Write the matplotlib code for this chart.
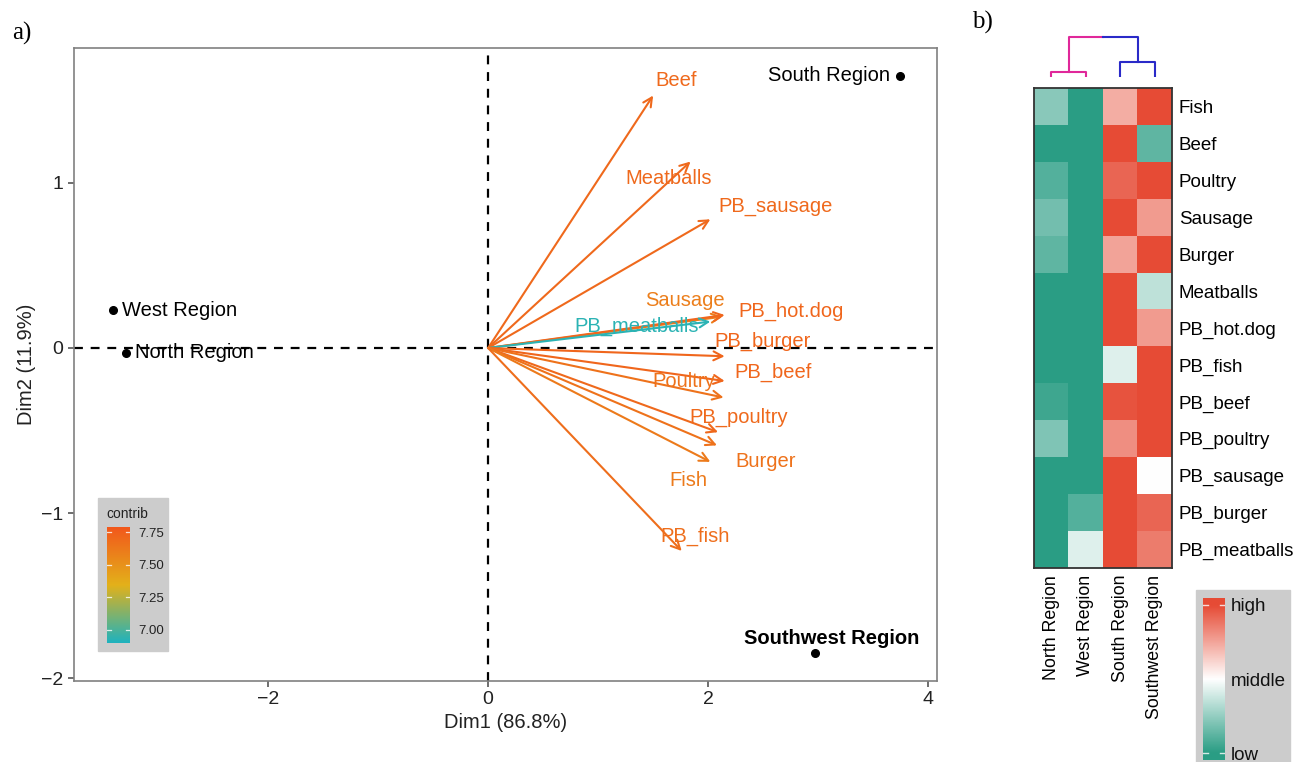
import numpy as np
import matplotlib
matplotlib.use("Agg")
import matplotlib.pyplot as plt
from matplotlib.colors import LinearSegmentedColormap, Normalize
from matplotlib.patches import Rectangle

plt.rcParams['font.family'] = ['Liberation Sans', 'DejaVu Sans']

# ---- PCA biplot data ----
regions = ["South Region", "West Region", "North Region", "Southwest Region"]
region_dim1 = [3.74, -3.41, -3.29, 2.97]
region_dim2 = [1.65, 0.23, -0.03, -1.85]

foods = ["Beef", "Meatballs", "PB_sausage", "Sausage", "PB_hot.dog", "PB_meatballs",
         "PB_burger", "PB_beef", "Poultry", "PB_poultry", "Burger", "Fish", "PB_fish"]
food_dim1 = [1.50, 1.84, 2.02, 2.13, 2.15, 2.02, 2.15, 2.15, 2.14, 2.09, 2.08, 2.02, 1.76]
food_dim2 = [1.53, 1.13, 0.78, 0.19, 0.20, 0.16, -0.05, -0.20, -0.30, -0.51, -0.59, -0.69, -1.23]
contrib = [7.70, 7.70, 7.70, 7.60, 7.72, 6.93, 7.72, 7.72, 7.66, 7.70, 7.66, 7.62, 7.68]

# ---- heatmap data ----
hm_rows = ["Fish", "Beef", "Poultry", "Sausage", "Burger", "Meatballs", "PB_hot.dog",
           "PB_fish", "PB_beef", "PB_poultry", "PB_sausage", "PB_burger", "PB_meatballs"]
hm_cols = ["North Region", "West Region", "South Region", "Southwest Region"]
hm_north = [-0.55, -1.0, -0.8, -0.65, -0.75, -1.0, -1.0, -1.0, -0.9, -0.6, -1.0, -1.0, -1.0]
hm_west = [-1.0, -1.0, -1.0, -1.0, -1.0, -1.0, -1.0, -1.0, -1.0, -1.0, -1.0, -0.8, -0.15]
hm_south = [0.45, 1.0, 0.85, 1.0, 0.5, 1.0, 1.0, -0.15, 0.95, 0.62, 1.0, 1.0, 1.0]
hm_southwest = [1.0, -0.75, 1.0, 0.55, 1.0, -0.3, 0.55, 1.0, 1.0, 1.0, 0.0, 0.85, 0.72]
# column dendrogram merge heights: (North,West), (South,Southwest), root
dend_heights = [0.12, 0.37, 1.0]

# label offsets (layout only, data units)
food_lab_off = {"Beef": (0.21, 0.09), "Meatballs": (-0.20, -0.10), "PB_sausage": (0.59, 0.08),
                "Sausage": (-0.34, 0.10), "PB_hot.dog": (0.60, 0.02), "PB_meatballs": (-0.67, -0.03),
                "PB_burger": (0.34, 0.09), "PB_beef": (0.44, 0.055), "Poultry": (-0.36, 0.095),
                "PB_poultry": (0.19, 0.09), "Burger": (0.44, -0.10), "Fish": (-0.20, -0.11),
                "PB_fish": (0.12, 0.09)}

W, H = 1303, 762


def fbox(x0, y0, x1, y1):
    # pixel box -> figure fraction [left, bottom, width, height]
    return [x0 / W, 1 - y1 / H, (x1 - x0) / W, (y1 - y0) / H]


fig = plt.figure(figsize=(W / 100, H / 100), dpi=100)

# ================= a) biplot =================
ax = fig.add_axes(fbox(74, 48, 937, 681))
ax.set_xlim(-3.764, 4.08)
ax.set_ylim(-2.018, 1.818)
ax.axhline(0, color='black', ls=(0, (4, 3.5)), lw=1.6, zorder=1)
ax.axvline(0, color='black', ls=(0, (4, 3.5)), lw=1.6, zorder=1)

ctr_cmap = LinearSegmentedColormap.from_list("ctr", ["#1FB3BE", "#E3B11A", "#F2581C"])
ctr_norm = Normalize(6.90, 7.79)

for name, x, y, c in zip(foods, food_dim1, food_dim2, contrib):
    col = ctr_cmap(ctr_norm(c))
    ax.annotate("", xy=(x, y), xytext=(0, 0),
                arrowprops=dict(arrowstyle="->", color=col, lw=1.5,
                                mutation_scale=16, shrinkA=0, shrinkB=0), zorder=3)
    dx, dy = food_lab_off[name]
    ax.text(x + dx, y + dy, name, color=col, fontsize=14.5, ha='center', va='center', zorder=4)

for name, x, y in zip(regions, region_dim1, region_dim2):
    ax.plot(x, y, 'o', color='black', ms=5.5, zorder=5)
    if name == "South Region":
        ax.text(x - 0.09, y, name, fontsize=14.5, ha='right', va='center')
    elif name == "Southwest Region":
        ax.text(x + 0.15, y + 0.09, name, fontsize=14.5, ha='center', va='center', fontweight='bold')
    else:
        ax.text(x + 0.08, y, name, fontsize=14.5, ha='left', va='center')

ax.set_xticks([-2, 0, 2, 4])
ax.set_yticks([-2, -1, 0, 1])
ax.set_xticklabels(["\u22122", "0", "2", "4"])
ax.set_yticklabels(["\u22122", "\u22121", "0", "1"])
ax.tick_params(labelsize=14, color='#555555', length=4, width=1.2, labelcolor='#222222')
for s in ax.spines.values():
    s.set_color('#808080')
    s.set_linewidth(1.2)
ax.set_xlabel("Dim1 (86.8%)", fontsize=14.5, color='#222222', labelpad=3)
ax.set_ylabel("Dim2 (11.9%)", fontsize=14.5, color='#222222', labelpad=4)

# contrib legend (box drawn inside the biplot axes, above its background)
ax.add_patch(Rectangle((98 / W, 1 - 651 / H), 70 / W, 153 / H, transform=fig.transFigure,
                       color='#CCCCCC', zorder=6, clip_on=False))
fig.text(106 / W, 1 - 514 / H, "contrib", fontsize=10, va='center', ha='left', color='#222222')
cax = fig.add_axes(fbox(107, 527, 130, 643))
grad = np.linspace(6.90, 7.79, 200).reshape(-1, 1)
cax.imshow(grad, aspect='auto', cmap=ctr_cmap, norm=ctr_norm, origin='lower',
           extent=[0, 1, 6.90, 7.79])
cax.set_xlim(0, 1)
cax.set_ylim(6.90, 7.79)
cax.set_xticks([])
for v in [7.00, 7.25, 7.50, 7.75]:
    cax.plot([0, 0.18], [v, v], color='white', lw=0.9, alpha=0.8)
    cax.plot([0.82, 1], [v, v], color='white', lw=0.9, alpha=0.8)
cax.yaxis.tick_right()
cax.set_yticks([7.00, 7.25, 7.50, 7.75])
cax.set_yticklabels(["7.00", "7.25", "7.50", "7.75"])
cax.tick_params(axis='y', length=0, labelsize=9.5, pad=6, labelcolor='#222222')
for s in cax.spines.values():
    s.set_visible(False)

# ================= b) heatmap =================
hm_cmap = LinearSegmentedColormap.from_list("hm", ["#2A9D84", "#FFFFFF", "#E64B35"])
mat = np.column_stack([hm_north, hm_west, hm_south, hm_southwest])
hax = fig.add_axes(fbox(1034, 88, 1172, 568))
hax.imshow(mat, cmap=hm_cmap, vmin=-1, vmax=1, aspect='auto', interpolation='nearest')
hax.yaxis.tick_right()
hax.set_yticks(range(len(hm_rows)))
hax.set_yticklabels(hm_rows, fontsize=13.5)
hax.set_xticks(range(len(hm_cols)))
hax.set_xticklabels(hm_cols, rotation=90, fontsize=12.8)
hax.tick_params(length=0, pad=5)
for s in hax.spines.values():
    s.set_color('#333333')
    s.set_linewidth(1.3)

# dendrogram
dax = fig.add_axes(fbox(1034, 34, 1172, 77))
dax.set_xlim(-0.5, 3.5)
dax.set_ylim(0, 1.075)
dax.axis('off')
h_nw, h_ss, h_root = dend_heights
pink, blue = '#E0289A', '#2A2AC8'
dax.plot([0, 0, 1, 1], [0, h_nw, h_nw, 0], color=pink, lw=1.5)
dax.plot([2, 2, 3, 3], [0, h_ss, h_ss, 0], color=blue, lw=1.5)
dax.plot([0.5, 0.5, 1.5], [h_nw, h_root, h_root], color=pink, lw=1.5)
dax.plot([1.5, 2.5, 2.5], [h_root, h_root, h_ss], color=blue, lw=1.5)

# heatmap legend
fig.patches.append(Rectangle((1196 / W, 0), 94 / W, 172 / H,
                             transform=fig.transFigure, color='#CCCCCC', zorder=-1))
lax = fig.add_axes(fbox(1203, 598, 1225, 760))
lgrad = np.linspace(-1.09, 1.09, 200).reshape(-1, 1)
lax.imshow(lgrad, aspect='auto', cmap=hm_cmap, vmin=-1, vmax=1, origin='lower',
           extent=[0, 1, -1.09, 1.09])
lax.set_xlim(0, 1)
lax.set_ylim(-1.09, 1.09)
lax.set_xticks([])
for v in [-1, 1]:
    lax.plot([0, 0.22], [v, v], color='white', lw=1.0, alpha=0.8)
    lax.plot([0.78, 1], [v, v], color='white', lw=1.0, alpha=0.8)
lax.yaxis.tick_right()
lax.set_yticks([-1, 0, 1])
lax.set_yticklabels(["low", "middle", "high"])
lax.tick_params(axis='y', length=0, labelsize=13.5, pad=4, labelcolor='#111111')
for s in lax.spines.values():
    s.set_visible(False)

# panel tags
fig.text(12 / W, 1 - 33 / H, "a)", fontsize=18, family='Liberation Serif', va='center')
fig.text(972 / W, 1 - 22 / H, "b)", fontsize=18, family='Liberation Serif', va='center')

fig.savefig("out.png", dpi=100)
